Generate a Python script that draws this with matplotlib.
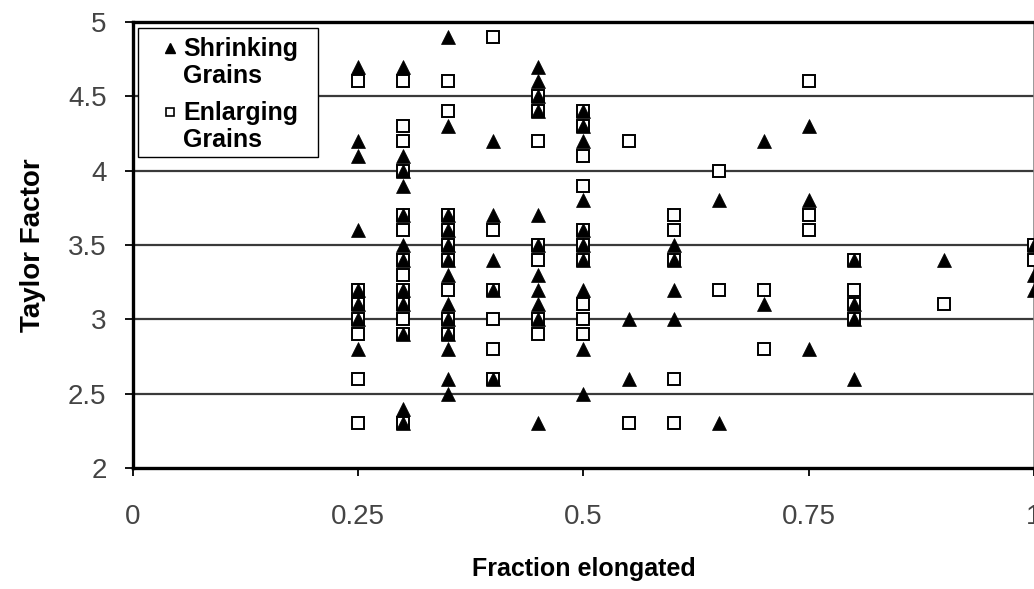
import matplotlib
matplotlib.use("Agg")
import matplotlib.pyplot as plt
from matplotlib.patches import Rectangle

# ---- data ----
shrink_x = ([0.25]*8 + [0.3]*12 + [0.35]*13 + [0.4]*5 + [0.45]*11 + [0.5]*10 +
            [0.55]*2 + [0.6]*4 + [0.65]*2 + [0.7]*2 + [0.75]*3 + [0.8]*4 + [0.9]*1 + [1.0]*3)
shrink_y = [4.7, 4.2, 4.1, 3.6, 3.2, 3.1, 3.0, 2.8,
            4.7, 4.1, 4.0, 3.9, 3.7, 3.5, 3.4, 3.2, 3.1, 2.9, 2.4, 2.3,
            4.9, 4.3, 3.7, 3.6, 3.5, 3.4, 3.3, 3.1, 3.0, 2.9, 2.8, 2.6, 2.5,
            4.2, 3.7, 3.4, 3.2, 2.6,
            4.7, 4.6, 4.5, 4.4, 3.7, 3.5, 3.3, 3.2, 3.1, 3.0, 2.3,
            4.4, 4.3, 4.2, 3.8, 3.6, 3.5, 3.4, 3.2, 2.8, 2.5,
            3.0, 2.6,
            3.5, 3.4, 3.2, 3.0,
            3.8, 2.3,
            4.2, 3.1,
            4.3, 3.8, 2.8,
            3.4, 3.1, 3.0, 2.6,
            3.4,
            3.5, 3.3, 3.2]

enlarge_x = ([0.25]*7 + [0.3]*13 + [0.35]*9 + [0.4]*6 + [0.45]*7 + [0.5]*10 +
             [0.55]*2 + [0.6]*5 + [0.65]*2 + [0.7]*2 + [0.75]*3 + [0.8]*4 + [0.9]*1 + [1.0]*2)
enlarge_y = [4.6, 3.2, 3.1, 3.0, 2.9, 2.6, 2.3,
             4.6, 4.3, 4.2, 4.0, 3.7, 3.6, 3.4, 3.3, 3.2, 3.1, 3.0, 2.9, 2.3,
             4.6, 4.4, 3.7, 3.6, 3.5, 3.4, 3.2, 3.0, 2.9,
             4.9, 3.6, 3.2, 3.0, 2.8, 2.6,
             4.5, 4.4, 4.2, 3.5, 3.4, 3.0, 2.9,
             4.4, 4.3, 4.1, 3.9, 3.6, 3.5, 3.4, 3.1, 3.0, 2.9,
             4.2, 2.3,
             3.7, 3.6, 3.4, 2.6, 2.3,
             4.0, 3.2,
             3.2, 2.8,
             4.6, 3.7, 3.6,
             3.4, 3.2, 3.1, 3.0,
             3.1,
             3.5, 3.4]

x_ticks = [0, 0.25, 0.5, 0.75, 1]
x_ticklabels = ["0", "0.25", "0.5", "0.75", "1"]
y_ticks = [2, 2.5, 3, 3.5, 4, 4.5, 5]
y_ticklabels = ["2", "2.5", "3", "3.5", "4", "4.5", "5"]
legend_labels = ["Shrinking\nGrains", "Enlarging\nGrains"]

# ---- figure ----
plt.rcParams['font.family'] = ['Liberation Sans', 'DejaVu Sans']
fig = plt.figure(figsize=(10.34, 5.89), dpi=100)
ax = fig.add_axes([0.1286, 0.2054, 0.8714, 0.7572])

ax.set_xlim(0, 1)
ax.set_ylim(2, 5)

for yv in [2.5, 3, 3.5, 4, 4.5]:
    ax.axhline(yv, color='#3a3a3a', lw=1.6, zorder=1)

ax.plot(enlarge_x, enlarge_y, linestyle='none', marker='s', markersize=8,
        markerfacecolor='white', markeredgecolor='black', markeredgewidth=1.4, zorder=3)
ax.plot(shrink_x, shrink_y, linestyle='none', marker='^', markersize=10,
        markerfacecolor='black', markeredgecolor='black', markeredgewidth=0.5, zorder=4)

ax.set_xticks(x_ticks)
ax.set_xticklabels(x_ticklabels)
ax.set_yticks(y_ticks)
ax.set_yticklabels(y_ticklabels)
ax.tick_params(axis='both', direction='out', length=6, width=1.3, colors='black',
               labelsize=20, labelcolor='#444444')
ax.tick_params(axis='x', pad=20)
ax.tick_params(axis='y', pad=13)

for side in ['left', 'bottom', 'top']:
    ax.spines[side].set_linewidth(2.4)
    ax.spines[side].set_color('black')
ax.spines['right'].set_linewidth(1.2)
ax.spines['right'].set_color('#888888')

ax.set_xlabel("Fraction elongated", fontsize=18, fontweight='bold', labelpad=19)
ax.set_ylabel("Taylor Factor", fontsize=20, fontweight='bold', labelpad=16)

# ---- legend (drawn in axes coordinates) ----
T = ax.transAxes
ax.add_patch(Rectangle((0.0055, 0.6973), 0.1998, 0.2892, transform=T,
                       facecolor='white', edgecolor='black', lw=1.0, zorder=10))
ax.plot([0.0411], [0.9417], transform=T, linestyle='none', marker='^', markersize=7,
        markerfacecolor='black', markeredgecolor='black', zorder=11, clip_on=False)
ax.plot([0.0411], [0.7975], transform=T, linestyle='none', marker='s', markersize=6,
        markerfacecolor='white', markeredgecolor='black', markeredgewidth=1.2,
        zorder=11, clip_on=False)
ax.text(0.0555, 0.9092, legend_labels[0], transform=T, ha='left', va='center',
        fontsize=18, fontweight='bold', linespacing=1.12, zorder=12)
ax.text(0.0555, 0.7660, legend_labels[1], transform=T, ha='left', va='center',
        fontsize=18, fontweight='bold', linespacing=1.12, zorder=12)

fig.savefig("out.png", dpi=100)
